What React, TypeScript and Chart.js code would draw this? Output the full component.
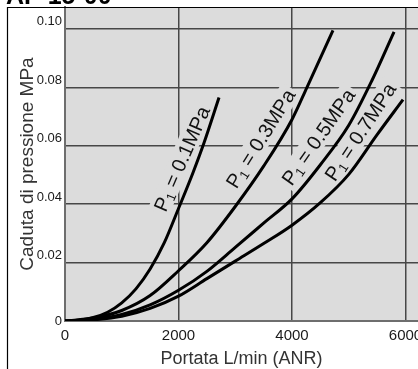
import React, { useEffect, useRef } from "react";
import { Chart, registerables } from "chart.js";

Chart.register(...registerables);

// ---- data ----
const flowTicks = [0, 2000, 4000, 6000];
const dropTicks = [0, 0.02, 0.04, 0.06, 0.08, 0.1];
const dropTickLabels = ["0", "0.02", "0.04", "0.06", "0.08", "0.10"];

const pressures = ["0.1", "0.3", "0.5", "0.7"];

const flow01 = [0, 250, 500, 750, 1000, 1250, 1500, 1750, 2000, 2250, 2450, 2714];
const drop01 = [0, 0.0003, 0.0012, 0.003, 0.0062, 0.011, 0.0178, 0.0268, 0.0385, 0.0505, 0.061, 0.0765];

const flow03 = [0, 500, 1000, 1500, 2000, 2500, 3000, 3500, 4000, 4264, 4722];
const drop03 = [0, 0.001, 0.0036, 0.0087, 0.0172, 0.0268, 0.0392, 0.053, 0.069, 0.08, 0.0995];

const flow05 = [0, 500, 1000, 1500, 2000, 2500, 3000, 3500, 4000, 4500, 5000, 5400, 5798];
const drop05 = [0, 0.0005, 0.0022, 0.0055, 0.0105, 0.017, 0.0252, 0.0335, 0.0418, 0.0535, 0.067, 0.082, 0.099];

const flow07 = [0, 500, 1000, 1500, 2000, 2500, 3000, 3500, 4000, 4500, 5000, 5500, 5956];
const drop07 = [0, 0.0004, 0.0016, 0.0043, 0.0085, 0.0145, 0.0205, 0.0265, 0.0328, 0.0405, 0.0502, 0.0638, 0.0758];

const seriesFlow = [flow01, flow03, flow05, flow07];
const seriesDrop = [drop01, drop03, drop05, drop07];

// label anchors (data coordinates) and text angles (layout)
const LABEL_FLOW = [2053, 3440, 4458, 5198];
const LABEL_DROP = [0.0556, 0.0625, 0.0631, 0.0648];
const LABEL_ANGLE = [-66.5, -58, -55, -56.6];

const FONT = "'Liberation Sans', Arial, sans-serif";
const PLOT_BG = "#dcdcdc";

const curveLabels = {
  id: "curveLabels",
  beforeDatasetsDraw(chart: any) {
    const { ctx, chartArea, scales } = chart;
    const xs = scales.x;
    const ys = scales.y;
    ctx.save();
    ctx.beginPath();
    ctx.rect(chartArea.left, chartArea.top, chartArea.right - chartArea.left, chartArea.bottom - chartArea.top);
    ctx.clip();
    const fs = 20;
    const subFs = 13;
    pressures.forEach((p, i) => {
      const px = xs.getPixelForValue(LABEL_FLOW[i]);
      const py = ys.getPixelForValue(LABEL_DROP[i]);
      const rest = " = " + p + "MPa";
      ctx.font = `${fs}px ${FONT}`;
      const wP = ctx.measureText("P").width;
      const wRest = ctx.measureText(rest).width;
      ctx.font = `${subFs}px ${FONT}`;
      const w1 = ctx.measureText("1").width;
      const total = wP + w1 + wRest;
      ctx.save();
      ctx.translate(px, py);
      ctx.rotate((LABEL_ANGLE[i] * Math.PI) / 180);
      ctx.fillStyle = PLOT_BG;
      ctx.fillRect(-total / 2 - 3, -fs * 0.55, total + 6, fs * 1.1);
      ctx.fillStyle = "#111";
      ctx.textBaseline = "alphabetic";
      ctx.textAlign = "left";
      let cx = -total / 2;
      const base = fs * 0.36;
      ctx.font = `${fs}px ${FONT}`;
      ctx.fillText("P", cx, base);
      cx += wP;
      ctx.font = `${subFs}px ${FONT}`;
      ctx.fillText("1", cx, base + 3);
      cx += w1;
      ctx.font = `${fs}px ${FONT}`;
      ctx.fillText(rest, cx, base);
      ctx.restore();
    });
    ctx.restore();
  },
};

const frame = {
  id: "frame",
  beforeDraw(chart: any) {
    const { ctx, chartArea, width, height } = chart;
    ctx.save();
    ctx.fillStyle = "#ffffff";
    ctx.fillRect(0, 0, width, height);
    ctx.fillStyle = PLOT_BG;
    ctx.fillRect(chartArea.left, chartArea.top, chartArea.right - chartArea.left, chartArea.bottom - chartArea.top);
    ctx.restore();
  },
  afterDraw(chart: any) {
    const { ctx, width, height } = chart;
    ctx.save();
    ctx.strokeStyle = "#000";
    ctx.lineWidth = 1.2;
    ctx.beginPath();
    ctx.moveTo(7.5, height);
    ctx.lineTo(7.5, 7.5);
    ctx.lineTo(width, 7.5);
    ctx.stroke();
    ctx.fillStyle = "#000";
    ctx.font = `bold 25px ${FONT}`;
    ctx.textBaseline = "alphabetic";
    ctx.fillText("AP 15-00", 6, 4);
    ctx.restore();
  },
};

export default function App() {
  const ref = useRef<HTMLCanvasElement>(null);
  useEffect(() => {
    if (!ref.current) return;
    const datasets = pressures.map((p, i) => ({
      label: "P1 = " + p + "MPa",
      data: seriesFlow[i].map((f, j) => ({ x: f, y: seriesDrop[i][j] })),
      borderColor: "#000",
      backgroundColor: "#000",
      borderWidth: 3,
      pointRadius: 0,
      fill: false,
      cubicInterpolationMode: "monotone" as const,
    }));
    const chart = new Chart(ref.current, {
      type: "line",
      data: { datasets },
      plugins: [frame, curveLabels],
      options: {
        responsive: false,
        animation: false,
        devicePixelRatio: 1,
        layout: { padding: { top: 7, left: 0, right: 0, bottom: 0 } },
        plugins: { legend: { display: false }, tooltip: { enabled: false } },
        scales: {
          x: {
            type: "linear",
            min: 0,
            max: 6220,
            afterBuildTicks: (s: any) => {
              s.ticks = flowTicks.map((v) => ({ value: v }));
            },
            afterFit: (s: any) => {
              s.height = 48;
              s.paddingLeft = 0;
              s.paddingRight = 0;
            },
            grid: {
              color: (c: any) => (c.tick && c.tick.value === 0 ? "rgba(0,0,0,0)" : "#474747"),
              lineWidth: 1.5,
              drawTicks: false,
            },
            border: { display: true, color: "#6e6e6e", width: 2 },
            ticks: {
              padding: 6,
              autoSkip: false,
              maxRotation: 0,
              color: "#1a1a1a",
              font: { size: 15, family: FONT },
              callback: (v: any) => String(v),
            },
            title: {
              display: true,
              text: "Portata L/min (ANR)",
              color: "#333",
              font: { size: 18, family: FONT, lineHeight: 1 },
              padding: { top: 0, bottom: 1 },
            },
          },
          y: {
            type: "linear",
            min: 0,
            max: 0.1075,
            afterBuildTicks: (s: any) => {
              s.ticks = dropTicks.map((v) => ({ value: v }));
            },
            afterFit: (s: any) => {
              s.width = 65;
              s.paddingTop = 0;
              s.paddingBottom = 0;
            },
            grid: {
              color: (c: any) => (c.tick && c.tick.value === 0 ? "rgba(0,0,0,0)" : "#474747"),
              lineWidth: 1.5,
              drawTicks: false,
            },
            border: { display: true, color: "#6e6e6e", width: 2 },
            ticks: {
              padding: 3,
              autoSkip: false,
              color: "#1a1a1a",
              font: { size: 13, family: FONT },
              labelOffset: -7,
              callback: (_v: any, i: number) => (i === 0 ? ["", dropTickLabels[i]] : dropTickLabels[i]),
            },
            title: {
              display: true,
              text: "Caduta di pressione MPa",
              color: "#333",
              font: { size: 19, family: FONT, lineHeight: 1 },
              padding: { top: 18, bottom: 0 },
            },
          },
        },
      },
    });
    return () => chart.destroy();
  }, []);
  return (
    <div style={{ position: "fixed", left: 0, top: 0, width: 418, height: 369, background: "#fff" }}>
      <canvas ref={ref} width={418} height={369} style={{ width: 418, height: 369, display: "block" }} />
    </div>
  );
}
